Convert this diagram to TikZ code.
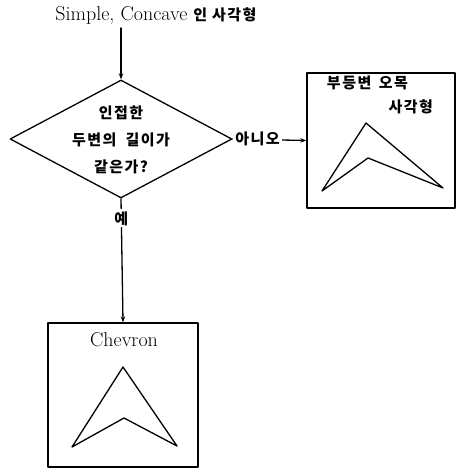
\documentclass[tikz,border=0pt]{standalone}
\usepackage{fontspec}
\newfontfamily\kr[LetterSpace=10]{Noto Sans CJK KR}
\usetikzlibrary{arrows.meta,shapes.geometric}

\begin{document}
\begin{tikzpicture}[x=1pt,y=-1pt,line cap=round,line join=round,line width=1.3pt,
  >={Stealth[length=6pt,width=4.5pt]},
  box/.style={draw,minimum width=150pt,minimum height=144pt,inner sep=0pt},
  decision/.style={draw,diamond,minimum width=222pt,minimum height=118pt,inner sep=0pt},
  kor/.style={font=\kr\bfseries\fontsize{15}{27}\selectfont},
  lat/.style={font=\fontsize{20}{22}\selectfont}]
\useasboundingbox(0,0)rectangle(459,468);
\node[lat](title)at(156,15){Simple, Concave {\kr\bfseries\fontsize{15}{20}\selectfont 인 사각형}};
\node[decision](cond)at(121,139){};
\node[kor,align=center](condtext)at(121,140){인접한\\두변의\hspace{.6em}길이가\\같은가?};
\draw[->](title.south -| cond.north)--(cond.north);
% no: irregular concave quad
\node[box,minimum width=148pt,minimum height=135pt](odd)at(381,140.5){};
\node[kor,anchor=west](oddtop)at(323,83){부등변\hspace{.5em}오목};
\node[kor,anchor=east](oddbot)at(437,107){사각형};
\draw(366,123)--(443,188)--(368,158)--(322,191)--cycle;
\draw[->](cond.east)--node(no)[kor,pos=0,anchor=west,fill=white,inner sep=2pt]{아니오}(odd.west);
% yes: chevron
\node[box](chev)at(123,395){};
\node[lat](chevtext)at(124,340){Chevron};
\draw(123,367)--(177,446)--(124,418)--(72,447)--cycle;
\draw[->](cond.south)--node(yes)[kor,pos=.16,fill=white,inner sep=2pt]{예}(chev.north);
\end{tikzpicture}
\end{document}
